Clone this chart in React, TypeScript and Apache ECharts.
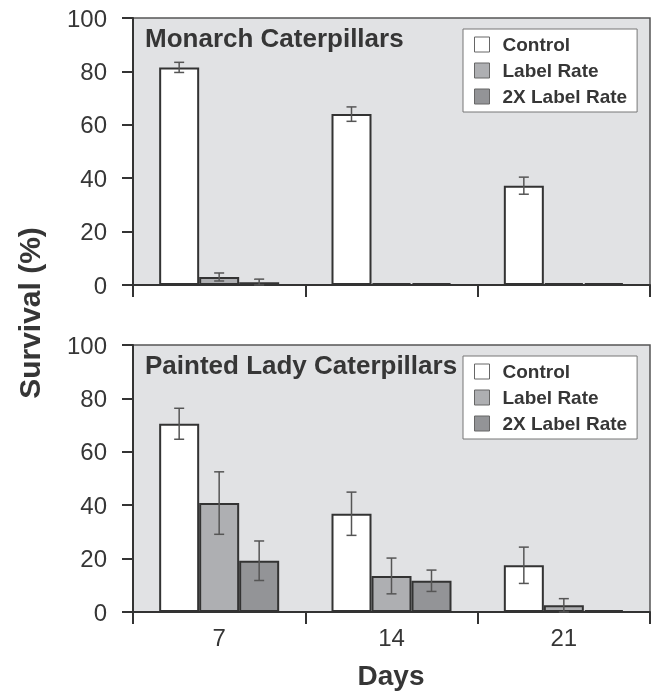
import React, { useEffect, useRef } from 'react';
import * as echarts from 'echarts';

const days = ['7', '14', '21'];
const seriesNames = ['Control', 'Label Rate', '2X Label Rate'];
const panelTitles = ['Monarch Caterpillars', 'Painted Lady Caterpillars'];

const monarchControl = [81.5, 64.0, 37.2];
const monarchControlErr = [1.9, 2.7, 3.2];
const monarchLabel = [3.0, 0.7, 0.7];
const monarchLabelErr = [1.5, 0, 0];
const monarch2x = [1.0, 0.7, 0.7];
const monarch2xErr = [1.2, 0, 0];

const paintedControl = [70.5, 36.8, 17.5];
const paintedControlErr = [5.8, 8.1, 6.8];
const paintedLabel = [40.8, 13.5, 2.5];
const paintedLabelErr = [11.7, 6.7, 2.5];
const painted2x = [19.2, 11.7, 0.7];
const painted2xErr = [7.4, 4.0, 0];

const yTicks = [0, 20, 40, 60, 80, 100];

const FONT = "'Liberation Sans', Arial, Helvetica, sans-serif";
const TEXT = '#363636';
const fills = ['#ffffff', '#aeafb2', '#939497'];
const BAR_W = 40;

export default function App() {
  const ref = useRef<HTMLDivElement>(null);
  useEffect(() => {
    const chart = echarts.init(ref.current as HTMLDivElement, null, { renderer: 'svg' });
    const panels = [
      { vals: [monarchControl, monarchLabel, monarch2x], errs: [monarchControlErr, monarchLabelErr, monarch2xErr] },
      { vals: [paintedControl, paintedLabel, painted2x], errs: [paintedControlErr, paintedLabelErr, painted2xErr] },
    ];
    const tops = [18, 345];
    const series: any[] = [];
    panels.forEach((p, pi) => {
      p.vals.forEach((vals, si) => {
        series.push({
          type: 'bar',
          name: seriesNames[si],
          xAxisIndex: pi,
          yAxisIndex: pi,
          data: vals,
          barWidth: BAR_W,
          barGap: '0%',
          itemStyle: { color: fills[si], borderColor: '#333', borderWidth: 2 },
          z: 2,
        });
      });
      p.vals.forEach((vals, si) => {
        series.push({
          type: 'custom',
          name: 'err' + pi + si,
          xAxisIndex: pi,
          yAxisIndex: pi,
          z: 5,
          encode: { x: 0, y: 1 },
          data: vals.map((v, i) => [i, v, p.errs[si][i]]),
          renderItem: (params: any, api: any) => {
            const e = api.value(2);
            if (!e) return null;
            const idx = api.value(0);
            const v = api.value(1);
            const c = api.coord([idx, v]);
            const x = c[0] + (si - 1) * BAR_W;
            const yt = api.coord([idx, v + e])[1];
            const yb = api.coord([idx, Math.max(0, v - e)])[1];
            const st = { stroke: '#555', lineWidth: 1.5 };
            return {
              type: 'group',
              children: [
                { type: 'line', shape: { x1: x, y1: yt, x2: x, y2: yb }, style: st },
                { type: 'line', shape: { x1: x - 5, y1: yt, x2: x + 5, y2: yt }, style: st },
                { type: 'line', shape: { x1: x - 5, y1: yb, x2: x + 5, y2: yb }, style: st },
              ],
            };
          },
        });
      });
    });

    const option: any = {
      animation: false,
      textStyle: { fontFamily: FONT },
      title: panelTitles.map((t, i) => ({
        text: t,
        left: 145,
        top: tops[i] + 7,
        padding: 0,
        textStyle: { fontSize: 26, fontWeight: 'bold', color: TEXT, fontFamily: FONT },
      })),
      legend: tops.map((t) => ({
        data: seriesNames,
        orient: 'vertical',
        left: 463,
        top: t + 11,
        icon: 'rect',
        itemWidth: 15,
        itemHeight: 15,
        itemGap: 7,
        padding: [6, 10, 6, 11],
        backgroundColor: '#ffffff',
        borderColor: '#777',
        borderWidth: 1,
        borderRadius: 0,
        selectedMode: false,
        itemStyle: { borderColor: '#666', borderWidth: 1 },
        textStyle: { fontSize: 19, fontWeight: 'bold', color: TEXT, fontFamily: FONT, lineHeight: 19, padding: [0, 0, 0, 8] },
      })),
      grid: tops.map((t) => ({
        left: 133,
        width: 517,
        top: t,
        height: 267,
        show: true,
        backgroundColor: '#e1e2e4',
        borderColor: '#555',
        borderWidth: 1.5,
      })),
      xAxis: tops.map((_, i) => ({
        type: 'category',
        gridIndex: i,
        data: days,
        boundaryGap: true,
        axisLine: { lineStyle: { color: '#333', width: 2 } },
        axisTick: { show: true, length: 12, alignWithLabel: false, lineStyle: { color: '#333', width: 2 } },
        axisLabel: { show: i === 1, fontSize: 24, color: TEXT, margin: 13, fontFamily: FONT },
        splitLine: { show: false },
      })),
      yAxis: tops.map((_, i) => ({
        type: 'value',
        gridIndex: i,
        min: yTicks[0],
        max: yTicks[yTicks.length - 1],
        interval: yTicks[1] - yTicks[0],
        axisLine: { show: true, lineStyle: { color: '#333', width: 2 } },
        axisTick: { show: true, length: 11, lineStyle: { color: '#333', width: 2 } },
        axisLabel: { fontSize: 24, color: TEXT, margin: 26, fontFamily: FONT },
        splitLine: { show: false },
      })),
      graphic: [
        {
          type: 'text',
          x: 29,
          y: 313,
          rotation: Math.PI / 2,
          style: { text: 'Survival (%)', fill: TEXT, font: `bold 30px ${FONT}`, textAlign: 'center', textVerticalAlign: 'middle' },
        },
        {
          type: 'text',
          x: 391,
          y: 661,
          style: { text: 'Days', fill: TEXT, font: `bold 28px ${FONT}`, textAlign: 'center', textVerticalAlign: 'top' },
        },
      ],
      series,
    };
    chart.setOption(option);
    return () => chart.dispose();
  }, []);
  return <div ref={ref} style={{ position: 'fixed', left: 0, top: 0, width: 664, height: 694 }} />;
}
